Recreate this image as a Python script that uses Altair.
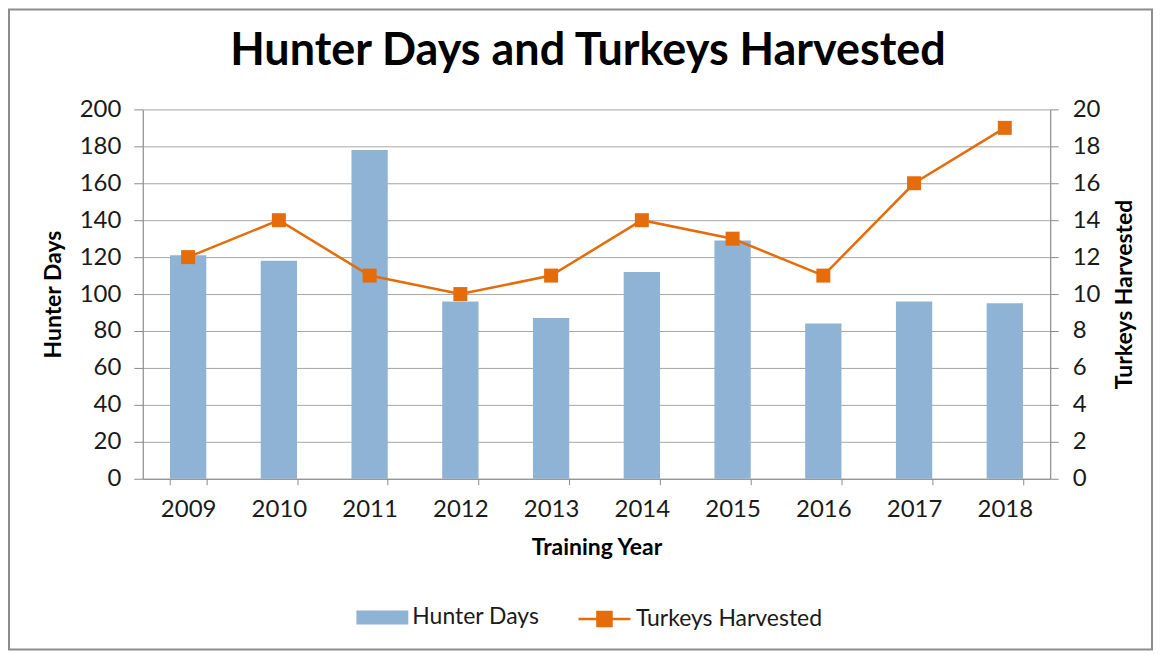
import altair as alt
import pandas as pd

TITLE = "Hunter Days and Turkeys Harvested"
years = ["2009", "2010", "2011", "2012", "2013", "2014", "2015", "2016", "2017", "2018"]
hunter_days = [121, 118, 178, 96, 87, 112, 129, 84, 96, 95]
turkeys = [12, 14, 11, 10, 11, 14, 13, 11, 16, 19]
bar_color = "#8fb3d4"
line_color = "#e46c0a"
hunter_ticks = list(range(0, 201, 20))
turkey_ticks = list(range(0, 21, 2))

df = pd.DataFrame({"year": years, "hunter": hunter_days, "turkeys": turkeys})

W, H = 909, 370
FONT = "Lato"
GRAY = "#8c8c8c"
TXT = "#1a1a1a"

bar_legend = alt.Legend(
    orient="none", legendX=214, legendY=483, title=None,
    labelFont=FONT, labelFontSize=23, labelColor=TXT, labelLimit=0,
    symbolType="M-1,-0.27H1V0.27H-1Z", symbolSize=2704, symbolStrokeWidth=0,
    symbolOpacity=1, labelOffset=4,
)
line_legend = alt.Legend(
    orient="none", legendX=435, legendY=483, title=None,
    labelFont=FONT, labelFontSize=23, labelColor=TXT, labelLimit=0,
    symbolType=("M-1,0H1 M-0.27,-0.27H0.27V0.27H-0.27Z M-0.27,-0.18H0.27 M-0.27,-0.09H0.27 "
                "M-0.27,0.09H0.27 M-0.27,0.18H0.27"),
    symbolSize=2704, symbolStrokeWidth=2.5, symbolFillColor=line_color,
    symbolOpacity=1, labelOffset=4,
)

xenc = alt.X(
    "year:N", title="Training Year", sort=None,
    scale=alt.Scale(paddingInner=0.6, paddingOuter=0.3),
    axis=alt.Axis(labelAngle=0, tickBand="extent", tickSize=6, labelPadding=13,
                  titlePadding=15),
)

bars = alt.Chart(df).transform_calculate(series="'Hunter Days'").mark_bar().encode(
    x=xenc,
    y=alt.Y("hunter:Q", title="Hunter Days", scale=alt.Scale(domain=[0, 200]),
            axis=alt.Axis(orient="left", values=hunter_ticks, grid=True, tickSize=9,
                          labelPadding=13, titlePadding=14, labelOverlap=False)),
    color=alt.Color("series:N", scale=alt.Scale(range=[bar_color]), legend=bar_legend),
)

right_axis = alt.Axis(orient="right", values=turkey_ticks, grid=False, tickSize=8,
                      labelPadding=14, titlePadding=14, titleAngle=270, titleBaseline="top",
                      labelOverlap=False)
yright = alt.Y("turkeys:Q", title="Turkeys Harvested", scale=alt.Scale(domain=[0, 20]),
               axis=right_axis)

line = alt.Chart(df).transform_calculate(series="'Turkeys Harvested'").mark_line(strokeWidth=2.5).encode(
    x=xenc,
    y=yright,
    stroke=alt.Stroke("series:N", scale=alt.Scale(range=[line_color]), legend=line_legend),
)
points = alt.Chart(df).mark_point(shape="square", filled=True, size=196, opacity=1,
                                  color=line_color).encode(
    x=xenc,
    y=yright,
)
line_layer = alt.layer(line, points)

deco = pd.DataFrame({"t": [TITLE]})
frame = alt.Chart(deco).mark_rect(fillOpacity=0, stroke=GRAY, strokeWidth=2).encode(
    x=alt.value(-134), x2=alt.value(1011), y=alt.value(-100), y2=alt.value(541)
)
title = alt.Chart(deco).mark_text(
    font=FONT, fontSize=45, fontWeight="bold", color="#000000", align="center", baseline="alphabetic"
).encode(text="t:N", x=alt.value(446), y=alt.value(-44))

chart = alt.layer(frame, bars, line_layer, title).resolve_scale(y="independent").properties(
    width=W, height=H, padding=0, background="white"
).configure_view(stroke=None).configure_axis(
    labelFont=FONT, labelFontSize=24, labelColor=TXT,
    titleFont=FONT, titleFontSize=23, titleFontWeight="bold", titleColor="#000000",
    domainColor=GRAY, tickColor=GRAY, gridColor="#a6a6a6", domainWidth=1.2,
)

chart.save("out.html", embed_options={"renderer": "svg", "actions": False})
